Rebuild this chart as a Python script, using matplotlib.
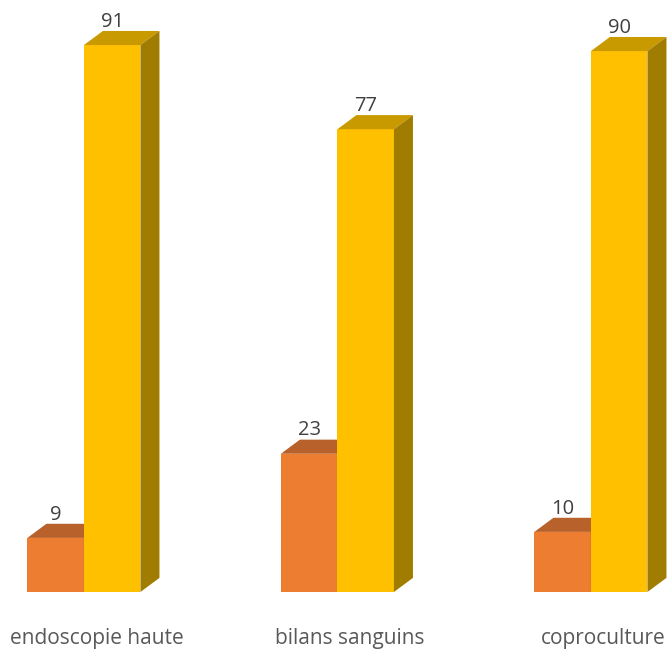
import numpy as np
import matplotlib.pyplot as plt
from matplotlib.patches import Polygon

categories = ['endoscopie haute', 'bilans sanguins', 'coproculture']
serie_oui = [9, 23, 10]
serie_non = [91, 77, 90]

front = ['#ED7D31', '#FFC000']
top = ['#B8612A', '#C99A00']
side = ['#9E5222', '#A07C00']

w = 0.223       # bar width (group spacing = 1)
dx = 0.075      # depth offset in x
dy = 2.35       # depth offset in value units

fig = plt.figure(figsize=(6.7, 6.49), dpi=100)
ax = fig.add_axes([0, 57 / 649, 1, 1 - 57 / 649])
ax.set_xlim(-0.331, 2.312)
ax.set_ylim(0, 98.5)

pos = np.arange(len(categories))


def bar3d(x0, h, k):
    ax.bar(x0 + w / 2, h, w, color=front[k], zorder=2)
    ax.add_patch(Polygon([(x0, h), (x0 + w, h), (x0 + w + dx, h + dy), (x0 + dx, h + dy)],
                         closed=True, facecolor=top[k], edgecolor='none', zorder=2))
    ax.add_patch(Polygon([(x0 + w, 0), (x0 + w + dx, dy), (x0 + w + dx, h + dy), (x0 + w, h)],
                         closed=True, facecolor=side[k], edgecolor='none', zorder=2))
    ax.text(x0 + w / 2, h + dy + 0.7, str(h), ha='center', va='baseline',
            fontsize=14.5, color='#404040', family='Open Sans')


for i in pos:
    bar3d(i - w, serie_oui[i], 0)
    bar3d(i, serie_non[i], 1)

ax.set_xticks(pos + 0.05)
ax.set_xticklabels(categories, fontsize=15, color='#595959', family='Open Sans')
ax.tick_params(length=0, pad=26)
ax.set_yticks([])
for s in ax.spines.values():
    s.set_visible(False)

fig.savefig('out.png', dpi=100)
